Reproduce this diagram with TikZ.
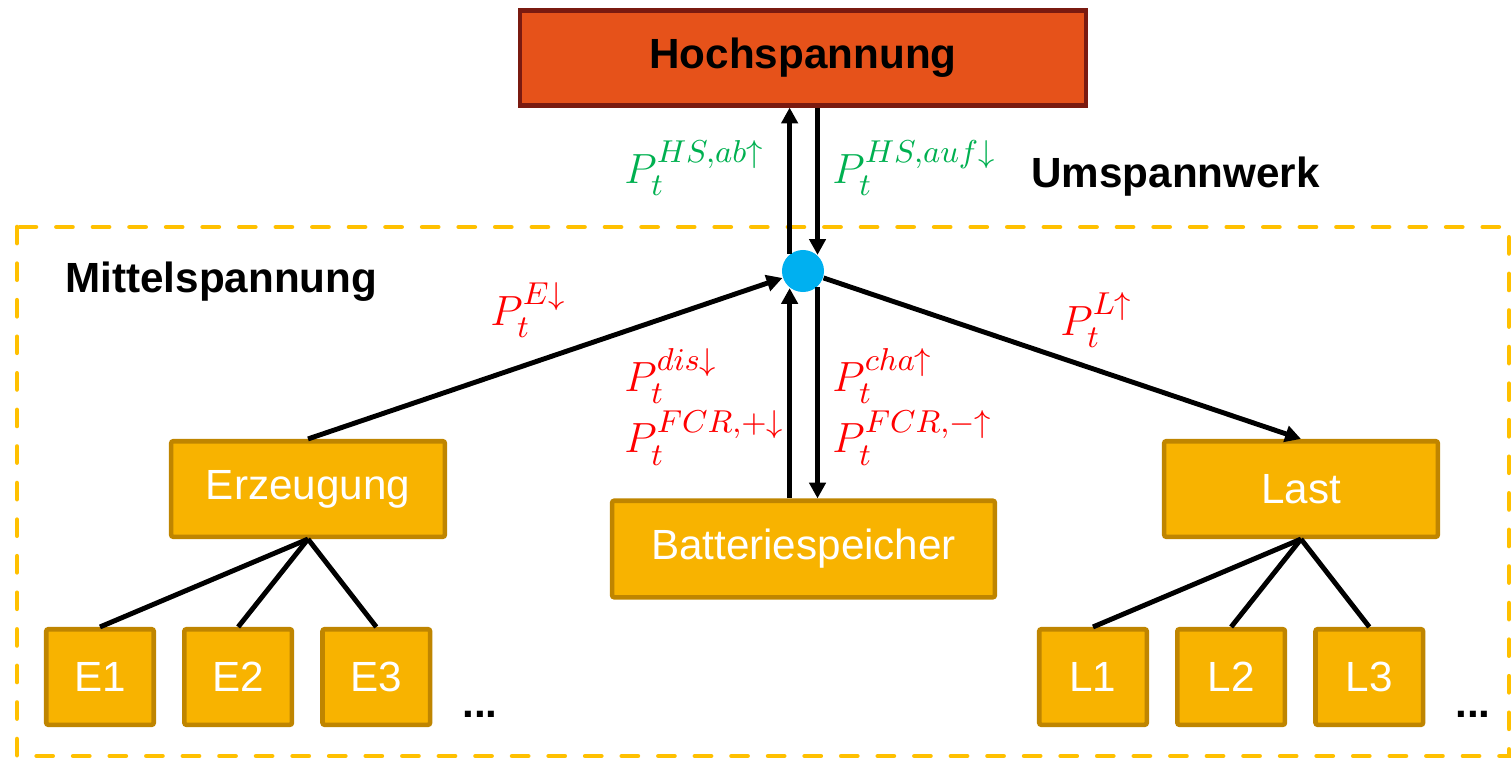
\documentclass[tikz,border=0pt]{standalone}
\usepackage{amsmath, amssymb}
\usepackage{fontspec}
\setmainfont{Liberation Sans}
\usetikzlibrary{arrows.meta, positioning, calc}

\definecolor{hsorange}{HTML}{E6521A}
\definecolor{hsborder}{HTML}{7A1A10}
\definecolor{boxfill}{HTML}{F8B300}
\definecolor{boxborder}{HTML}{BF8500}
\definecolor{dashyellow}{HTML}{FFC000}
\definecolor{labgreen}{HTML}{00B050}
\definecolor{labred}{HTML}{FF0000}
\definecolor{hubblue}{HTML}{00B0F0}

\begin{document}
\begin{tikzpicture}[x=0.01cm, y=-0.01cm, node distance=0.26cm and 0.26cm,
  >={Triangle[length=4.5pt, width=4.6pt]},
  font=\fontsize{12}{14}\selectfont,
  box/.style={draw=boxborder, fill=boxfill, line width=1.3pt, rounded corners=0.6pt, text=white, inner sep=0pt},
  flow/.style={->, line width=1.4pt},
  tie/.style={line width=1.4pt},
  lbl/.style={font=\fontsize{13}{17.5}\selectfont, anchor=west, align=left},
  head/.style={font=\bfseries\fontsize{12}{14}\selectfont, anchor=west}]
  \useasboundingbox (0,0) rectangle (1511,760);

  % Mittelspannung area
  \draw[dashyellow, line width=1.3pt, dash pattern=on 4.6pt off 5.8pt, line cap=round] (17,227) rectangle (1509,756);
  \node[head] (MS) at (53,282) {Mittelspannung};
  \node[head] (UW) at (1019,177) {Umspannwerk};

  % Hochspannung and hub
  \node[draw=hsborder, fill=hsorange, line width=1.3pt, minimum width=5.655cm, minimum height=0.945cm,
        font=\bfseries\fontsize{12}{14}\selectfont] (HS) at (803,58) {Hochspannung};
  \node[circle, fill=hubblue, minimum size=0.42cm, inner sep=0pt] (hub) at (803,271) {};

  % Erzeugung
  \node[box, minimum width=2.735cm, minimum height=0.955cm] (Erz) at (308,489) {Erzeugung};
  \node[box, minimum width=1.075cm, minimum height=0.955cm] (E1) at (100,677) {E1};
  \node[box, minimum width=1.075cm, minimum height=0.955cm, right=of E1] (E2) {E2};
  \node[box, minimum width=1.075cm, minimum height=0.955cm, right=of E2] (E3) {E3};
  \node[font=\bfseries\fontsize{12}{14}\selectfont] (dotsE) at (480,714) {...};

  % Batteriespeicher
  \node[box, minimum width=3.825cm, minimum height=0.965cm] (Batt) at (803.5,549) {Batteriespeicher};

  % Last
  \node[box, minimum width=2.735cm, minimum height=0.955cm] (Last) at (1301,489) {Last};
  \node[box, minimum width=1.075cm, minimum height=0.955cm] (L1) at (1093,677) {L1};
  \node[box, minimum width=1.075cm, minimum height=0.955cm, right=of L1] (L2) {L2};
  \node[box, minimum width=1.075cm, minimum height=0.955cm, right=of L2] (L3) {L3};
  \node[font=\bfseries\fontsize{12}{14}\selectfont] (dotsL) at (1473,714) {...};

  % flows
  \draw[flow] (Erz.north) -- (hub);
  \draw[flow] (hub) -- (Last.north);
  \draw[flow] (hub.128) -- (hub.128 |- HS.south);
  \draw[flow] (hub.48 |- HS.south) -- (hub.48);
  \draw[flow] (hub.-128 |- Batt.north) -- (hub.-128);
  \draw[flow] (hub.-48) -- (hub.-48 |- Batt.north);

  \draw[tie] (Erz.south) -- (E1.north);
  \draw[tie] (Erz.south) -- (E2.north);
  \draw[tie] (Erz.south) -- (E3.north);
  \draw[tie] (Last.south) -- (L1.north);
  \draw[tie] (Last.south) -- (L2.north);
  \draw[tie] (Last.south) -- (L3.north);

  % labels
  \node[lbl, labgreen] (labHSab) at (612,168) {$P_t^{HS,ab\uparrow}$};
  \node[lbl, labgreen] (labHSauf) at (820,168) {$P_t^{HS,auf\downarrow}$};
  \node[lbl, labred] (labE) at (478,310) {$P_t^{E\downarrow}$};
  \node[lbl, labred] (labL) at (1048,320) {$P_t^{L\uparrow}$};
  \node[lbl, labred] (labdis) at (612,407) {$P_t^{dis\downarrow}$\\$P_t^{FCR,+\downarrow}$};
  \node[lbl, labred] (labcha) at (820,407) {$P_t^{cha\uparrow}$\\$P_t^{FCR,-\uparrow}$};
\end{tikzpicture}
\end{document}
